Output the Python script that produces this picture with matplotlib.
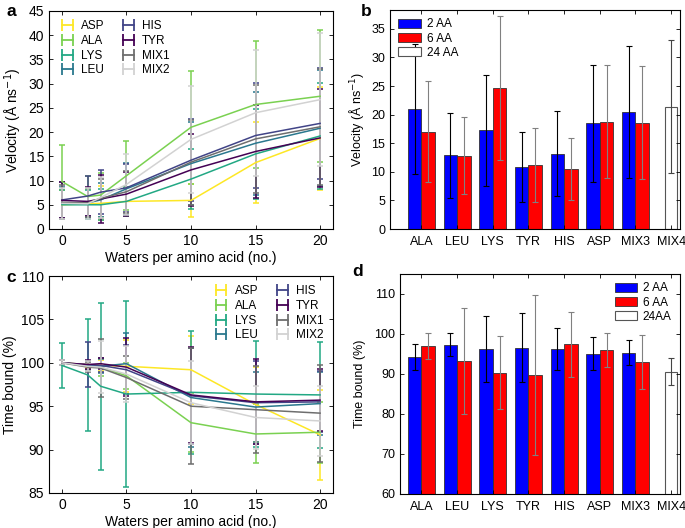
import matplotlib
matplotlib.use('Agg')
import matplotlib.pyplot as plt
from matplotlib.lines import Line2D
import numpy as np

plt.rcParams['font.family'] = ['Liberation Sans', 'DejaVu Sans']
plt.rcParams['xtick.direction'] = 'in'
plt.rcParams['ytick.direction'] = 'in'
plt.rcParams['xtick.top'] = True
plt.rcParams['ytick.right'] = True
plt.rcParams['axes.linewidth'] = 0.8

# datos de los paneles a y c
aguas = [0, 2, 3, 5, 10, 15, 20]
nombres = ['ASP', 'ALA', 'LYS', 'LEU', 'HIS', 'TYR', 'MIX1', 'MIX2']
colores = ['#fde725', '#7ad151', '#22a884', '#2a788e', '#414487', '#440154', '#6e6e6e', '#d2d2d2']

vel = {
    'ASP':  [5.0, 5.2, 5.3, 5.7, 5.9, 13.7, 18.7],
    'ALA':  [9.8, 6.7, 7.0, 11.0, 21.0, 25.7, 27.4],
    'LYS':  [5.0, 5.0, 5.0, 5.7, 10.3, 15.5, 19.2],
    'LEU':  [5.3, 5.4, 6.0, 8.3, 13.5, 17.7, 20.8],
    'HIS':  [6.0, 6.8, 7.6, 8.5, 14.2, 19.3, 21.8],
    'TYR':  [5.9, 5.7, 6.2, 7.2, 12.2, 16.0, 18.8],
    'MIX1': [5.5, 5.4, 6.3, 7.7, 13.8, 18.6, 21.1],
    'MIX2': [5.3, 5.2, 6.5, 9.2, 18.5, 24.0, 26.7],
}
vel_err = {
    'ASP':  [3.0, 3.0, 3.5, 3.0, 3.4, 8.3, 10.7],
    'ALA':  [7.6, 4.3, 4.5, 7.1, 11.7, 13.2, 13.6],
    'LYS':  [3.0, 3.0, 3.2, 3.0, 6.2, 9.3, 10.9],
    'LEU':  [3.3, 3.1, 3.5, 5.4, 8.5, 10.6, 12.0],
    'HIS':  [3.8, 4.2, 4.6, 5.0, 8.5, 10.9, 11.4],
    'TYR':  [3.7, 3.0, 5.0, 4.5, 7.5, 9.5, 10.2],
    'MIX1': [3.5, 3.0, 4.0, 4.3, 8.8, 11.1, 12.0],
    'MIX2': [3.2, 3.2, 4.2, 6.3, 11.1, 13.0, 13.7],
}
tiempo = {
    'ASP':  [100.0, 99.8, 99.7, 99.6, 99.2, 95.2, 91.7],
    'ALA':  [100.0, 99.7, 99.5, 98.5, 93.1, 91.8, 92.0],
    'LYS':  [99.7, 98.6, 97.3, 96.4, 96.6, 96.4, 96.3],
    'LEU':  [100.0, 99.7, 99.6, 99.9, 96.0, 94.9, 95.3],
    'HIS':  [100.0, 99.8, 99.7, 99.2, 96.2, 95.4, 95.5],
    'TYR':  [100.0, 99.8, 99.9, 99.5, 96.3, 95.5, 95.7],
    'MIX1': [100.0, 99.5, 99.4, 98.3, 95.0, 94.6, 94.2],
    'MIX2': [100.0, 99.6, 99.5, 98.7, 95.4, 93.7, 93.3],
}
tiempo_err = {
    'ASP':  [0.3, 0.4, 0.6, 3.0, 3.9, 4.3, 5.2],
    'ALA':  [0.3, 0.5, 1.0, 1.5, 3.4, 3.4, 3.5],
    'LYS':  [2.6, 6.4, 9.6, 10.7, 7.1, 6.1, 6.1],
    'LEU':  [0.3, 0.5, 0.8, 3.5, 5.7, 4.0, 3.6],
    'HIS':  [0.3, 2.6, 0.8, 2.8, 5.5, 4.8, 3.5],
    'TYR':  [0.3, 0.5, 0.6, 3.3, 5.5, 4.9, 3.6],
    'MIX1': [0.3, 0.6, 3.3, 2.5, 6.7, 5.0, 5.6],
    'MIX2': [0.3, 0.6, 3.0, 3.2, 4.8, 3.6, 4.0],
}

# datos de los paneles b y d
grupos = ['ALA', 'LEU', 'LYS', 'TYR', 'HIS', 'ASP', 'MIX3', 'MIX4']
vel2 = [21.0, 12.9, 17.3, 10.9, 13.2, 18.5, 20.5]
vel2_err = [11.3, 7.4, 9.7, 6.1, 7.4, 10.2, 11.5]
vel6 = [17.0, 12.8, 24.6, 11.2, 10.5, 18.8, 18.6]
vel6_err = [8.8, 6.7, 12.6, 6.4, 5.5, 9.8, 9.9]
vel24 = 21.4
vel24_err = 11.6
tb2 = [94.2, 97.3, 96.3, 96.6, 96.3, 95.1, 95.3]
tb2_err = [3.2, 2.9, 8.2, 8.7, 5.3, 4.2, 3.1]
tb6 = [97.0, 93.3, 90.3, 89.8, 97.4, 96.0, 93.0]
tb6_err = [3.3, 13.3, 9.1, 20.0, 8.2, 4.3, 6.7]
tb24 = 90.6
tb24_err = 3.4

W, H = 685, 528
fig = plt.figure(figsize=(W/100, H/100), dpi=100)

def caja(l, t, r, b):
    return fig.add_axes([l/W, 1-b/H, (r-l)/W, (b-t)/H])

axa = caja(49, 11, 333, 229)
axb = caja(390, 10, 680, 229)
axc = caja(49, 276, 333, 493)
axd = caja(400, 274, 680, 494)

def lineas(ax, datos, errores):
    for n, c in zip(nombres, colores):
        ax.errorbar(aguas, datos[n], yerr=errores[n], color=c, lw=1.1,
                    elinewidth=1.1, capsize=2, capthick=1.1)
    ax.set_xlim(-1, 21)
    ax.set_xticks([0, 5, 10, 15, 20])
    ax.set_xlabel('Waters per amino acid (no.)', fontsize=10, labelpad=2)
    ax.tick_params(labelsize=10, length=3, width=0.6)

# entradas de la leyenda con forma |--|
marcas = [Line2D([], [], color=c, lw=1.3, marker='|', markersize=9, mew=1.3)
          for c in colores]
leyenda = dict(ncol=2, frameon=False, fontsize=8.5, handlelength=1.5, numpoints=2,
               handletextpad=0.4, labelspacing=0.22, columnspacing=1.3,
               borderaxespad=0.4)

lineas(axa, vel, vel_err)
axa.set_ylim(0, 45)
axa.set_yticks(range(0, 46, 5))
axa.set_ylabel('Velocity (Å ns$^{-1}$)', fontsize=10, labelpad=3)
axa.legend(marcas, nombres, loc='upper left', **leyenda)

lineas(axc, tiempo, tiempo_err)
axc.set_ylim(85, 110)
axc.set_yticks(range(85, 111, 5))
axc.set_ylabel('Time bound (%)', fontsize=10, labelpad=3)
axc.legend(marcas, nombres, loc='upper right', **leyenda)

def barras(ax, v2, e2, v6, e6, v24, e24, lab24):
    x = np.arange(len(v2))
    w = 0.38
    ax.bar(x - w/2, v2, w, color='#0000ff', edgecolor='#333333', lw=0.6, label='2 AA')
    ax.bar(x + w/2, v6, w, color='#ff0000', edgecolor='#333333', lw=0.6, label='6 AA')
    ax.bar([7], [v24], 0.34, color='white', edgecolor='#555555', lw=0.8, label=lab24)
    ax.errorbar(x - w/2, v2, yerr=e2, fmt='none', ecolor='black', elinewidth=0.8,
                capsize=2, capthick=0.8)
    ax.errorbar(x + w/2, v6, yerr=e6, fmt='none', ecolor='#808080', elinewidth=0.8,
                capsize=2, capthick=0.8)
    ax.errorbar([7], [v24], yerr=[e24], fmt='none', ecolor='#444444', elinewidth=0.8,
                capsize=2, capthick=0.8)
    ax.set_xticks(range(len(grupos)))
    ax.set_xticklabels(grupos)
    ax.tick_params(labelsize=9, length=3, width=0.6)
    ax.tick_params(axis='x', pad=5)

barras(axb, vel2, vel2_err, vel6, vel6_err, vel24, vel24_err, '24 AA')
axb.set_xlim(-0.88, 7.25)
axb.set_ylim(0, 38.3)
axb.set_yticks(range(0, 36, 5))
axb.set_ylabel('Velocity (Å ns$^{-1}$)', fontsize=9, labelpad=4)
axb.legend(loc='upper left', frameon=False, fontsize=8.5, handlelength=1.9,
           handleheight=0.8, handletextpad=0.5, labelspacing=0.2, borderaxespad=0.3)

barras(axd, tb2, tb2_err, tb6, tb6_err, tb24, tb24_err, '24AA')
axd.set_xlim(-0.6, 7.25)
axd.set_ylim(60, 115)
axd.set_yticks(range(60, 111, 10))
axd.set_ylabel('Time bound (%)', fontsize=9, labelpad=6)
axd.legend(loc='upper right', frameon=False, fontsize=8.5, handlelength=1.9,
           handleheight=0.8, handletextpad=0.5, labelspacing=0.2, borderaxespad=0.3)

# letras de los paneles
for letra, x, y in [('a', 6, 12), ('b', 361, 12), ('c', 6, 277), ('d', 352, 272)]:
    fig.text(x/W, 1-y/H, letra, fontsize=12.5, fontweight='bold', va='center', ha='left')

fig.savefig('out.png', dpi=100)
